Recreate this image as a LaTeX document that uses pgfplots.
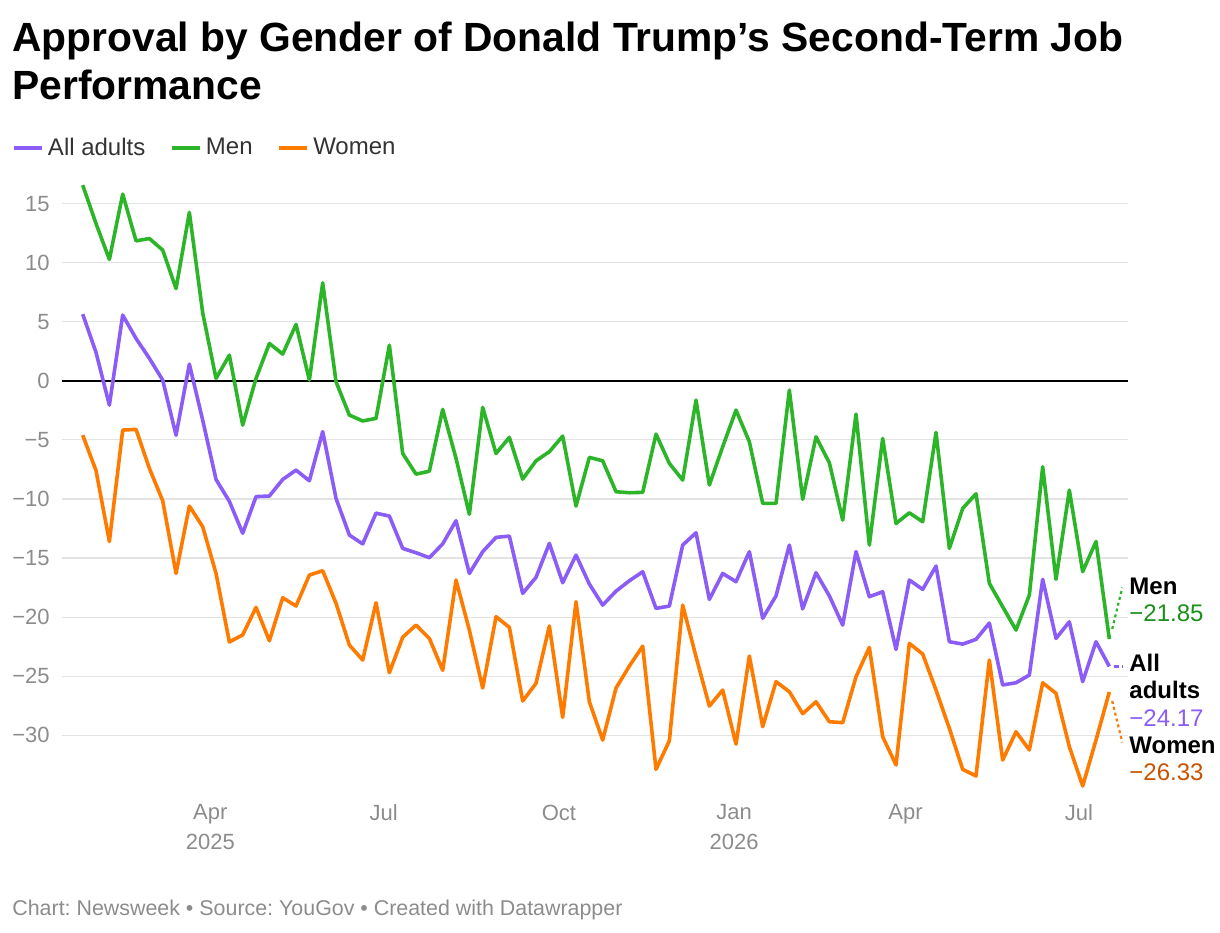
\documentclass[border=0pt]{standalone}
\usepackage{pgfplots}
\pgfplotsset{compat=1.18}
\usepackage{pgfplotstable}
\usepackage{fontspec}
\setmainfont{Liberation Sans}
\frenchspacing

\definecolor{adultc}{HTML}{8B5CF6}
\definecolor{menc}{HTML}{2DB52A}
\definecolor{womenc}{HTML}{FF7B00}
\definecolor{menlab}{HTML}{1A8F1A}
\definecolor{womenlab}{HTML}{C85300}
\definecolor{ticklab}{HTML}{8C8C8C}
\definecolor{legtext}{HTML}{333333}
\definecolor{gridc}{HTML}{E3E3E3}
\definecolor{footc}{HTML}{8C8C8C}

% Weekly net approval (approve minus disapprove); day = days since 1 Jan 2025
\pgfplotstableread{
day adults men women
23  5.64  16.56  -4.60
30  2.40  13.30  -7.60
37  -2.06 10.27  -13.60
44  5.56  15.80  -4.17
51  3.58  11.84  -4.11
58  1.90  12.04  -7.41
65  0.06  11.06  -10.15
72  -4.60 7.80   -16.30
79  1.41  14.25  -10.60
86  -3.33 5.75   -12.35
93  -8.35 0.20   -16.30
100 -10.20 2.17  -22.10
107 -12.90 -3.75 -21.50
114 -9.80 0.20   -19.17
121 -9.75 3.16   -22.00
128 -8.35 2.26   -18.36
135 -7.56 4.77   -19.06
142 -8.46 0.06   -16.44
149 -4.30 8.29   -16.07
156 -9.95 -0.08  -18.83
163 -13.05 -2.90 -22.36
170 -13.80 -3.40 -23.63
177 -11.20 -3.18 -18.78
184 -11.45 3.02  -24.70
191 -14.18 -6.15 -21.70
198 -14.55 -7.90 -20.67
205 -14.97 -7.65 -21.80
212 -13.80 -2.42 -24.50
219 -11.84 -6.57 -16.86
226 -16.30 -11.30 -21.10
233 -14.46 -2.25 -26.00
240 -13.25 -6.15 -19.96
247 -13.14 -4.79 -20.86
254 -17.99 -8.32 -27.10
261 -16.63 -6.77 -25.60
268 -13.76 -6.00 -20.75
275 -17.09 -4.68 -28.48
282 -14.75 -10.60 -18.70
289 -17.20 -6.48 -27.16
296 -18.98 -6.77 -30.40
303 -17.80 -9.39 -26.00
310 -16.92 -9.47 -24.14
317 -16.16 -9.44 -22.45
324 -19.26 -4.51 -32.88
331 -19.06 -6.99 -30.46
338 -13.90 -8.40 -18.98
345 -12.86 -1.63 -23.35
352 -18.50 -8.82 -27.52
359 -16.30 -5.58 -26.17
366 -17.00 -2.48 -30.74
373 -14.46 -5.16 -23.29
380 -20.10 -10.37 -29.27
387 -18.20 -10.37 -25.46
394 -13.90 -0.79 -26.31
401 -19.30 -10.03 -28.17
408 -16.24 -4.74 -27.16
415 -18.20 -6.94 -28.85
422 -20.67 -11.79 -28.93
429 -14.46 -2.82 -25.04
436 -18.27 -13.90 -22.56
443 -17.85 -4.88 -30.12
450 -22.73 -12.07 -32.51
457 -16.86 -11.17 -22.22
464 -17.65 -11.93 -23.12
471 -15.68 -4.37 -26.17
478 -22.08 -14.18 -29.41
485 -22.28 -10.80 -32.88
492 -21.88 -9.56 -33.44
499 -20.50 -17.14 -23.63
506 -25.74 -19.12 -32.09
513 -25.55 -21.09 -29.70
520 -24.90 -18.13 -31.24
527 -16.80 -7.27 -25.55
534 -21.80 -16.80 -26.45
541 -20.39 -9.25 -30.96
548 -25.46 -16.15 -34.29
555 -22.08 -13.60 -30.40
562 -24.17 -21.85 -26.33
}\approval

\begin{document}
\begin{tikzpicture}[x=0.5pt,y=-0.5pt]
\path[use as bounding box] (0,0) rectangle (1220,932);

% title (two lines, each placed on its own baseline)
\node[anchor=base west, inner sep=0pt,
      font=\fontsize{20.4}{24}\selectfont\bfseries, text=black]
  at (12,51) {Approval by Gender of Donald Trump’s Second-Term Job};
\node[anchor=base west, inner sep=0pt,
      font=\fontsize{20.4}{24}\selectfont\bfseries, text=black]
  at (12,99) {Performance};

\begin{axis}[
  at={(31pt,-397.2pt)}, anchor=south west,
  scale only axis, width=533pt, height=310.2pt,
  xmin=12.13, xmax=571.8, ymin=-35, ymax=17.5,
  clip=false,
  axis line style={draw=none},
  tick style={draw=none},
  major tick length=0pt,
  ymajorgrids, grid style={gridc, line width=0.6pt},
  ytick={-30,-25,-20,-15,-10,-5,0,5,10,15},
  yticklabels={−30,−25,−20,−15,−10,−5,0,5,10,15},
  yticklabel style={anchor=east, inner sep=0pt, xshift=-6pt,
                    font=\fontsize{11}{13}\selectfont, text=ticklab},
  xtick={90,181,273,365,455,546},
  xticklabels={Apr\\2025,Jul,Oct,Jan\\2026,Apr,Jul},
  xticklabel style={anchor=north, align=center, inner sep=0pt, yshift=-5pt,
                    font=\fontsize{11}{15}\selectfont, text=ticklab},
  legend style={at={(-0.0469,1.0419)}, anchor=west, draw=none, fill=none,
                inner sep=0pt, font=\fontsize{12}{14}\selectfont, text=legtext,
                /tikz/every even column/.append style={column sep=10.5pt}},
  legend columns=-1,
  legend cell align=left,
  legend image code/.code={\draw[#1] (0pt,0pt) -- (14pt,0pt);},
  every axis plot/.append style={line width=1.8pt, line join=round, no markers},
]
\draw[black, line width=0.9pt] (axis cs:12.13,0) -- (axis cs:571.8,0);

\addplot[adultc] table[x=day, y=adults] {\approval};
\addlegendentry{All adults}
\addplot[menc] table[x=day, y=men] {\approval};
\addlegendentry{Men}
\addplot[womenc] table[x=day, y=women] {\approval};
\addlegendentry{Women}

% connectors from the last week to the end labels
\draw[menc, line width=1.1pt, dash pattern=on 1.5pt off 1.5pt] (axis cs:563.5,-21.0) -- (axis cs:568.8,-17.5);
\draw[adultc, line width=1.1pt, dash pattern=on 2.5pt off 1.5pt] (axis cs:564.2,-24.17) -- (axis cs:568.8,-24.17);
\draw[womenc, line width=1.1pt, dash pattern=on 1.5pt off 1.5pt] (axis cs:563.5,-27.1) -- (axis cs:568.8,-30.6);
\end{axis}

% end labels
\begin{scope}[every node/.style={anchor=base west, inner sep=0pt, font=\fontsize{12}{14}\selectfont}]
\node[font=\fontsize{12}{14}\selectfont\bfseries] at (1129,594) {Men};
\node[text=menlab] at (1129,621) {−21.85};
\node[font=\fontsize{12}{14}\selectfont\bfseries] at (1129,671) {All};
\node[font=\fontsize{12}{14}\selectfont\bfseries] at (1129,698) {adults};
\node[text=adultc] at (1129,726) {−24.17};
\node[font=\fontsize{12}{14}\selectfont\bfseries] at (1129,753) {Women};
\node[text=womenlab] at (1129,780) {−26.33};
\end{scope}

% footer
\node[anchor=base west, inner sep=0pt, font=\fontsize{10.7}{12}\selectfont, text=footc]
  at (12,915) {Chart: Newsweek • Source: YouGov • Created with Datawrapper};
\end{tikzpicture}
\end{document}
